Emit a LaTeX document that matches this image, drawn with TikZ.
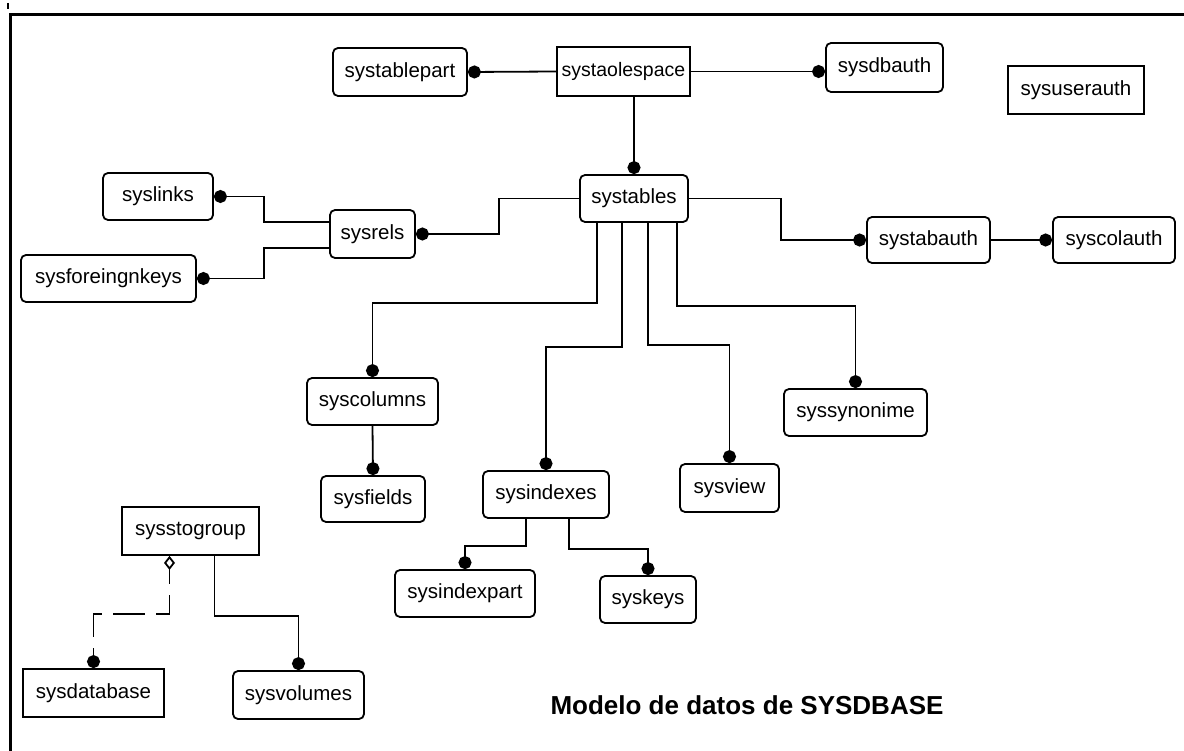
\documentclass[tikz,border=0pt]{standalone}
\usepackage{fontspec}
\setsansfont{Liberation Sans}
\usetikzlibrary{arrows.meta, positioning}

\begin{document}
\begin{tikzpicture}[x=1pt, y=-1pt, line width=1.8pt,
        tbl/.style={draw, rounded corners=5pt, inner sep=0pt,
            font=\sffamily\fontsize{20.5}{24}\selectfont},
        ent/.style={tbl, rounded corners=0pt},
        one/.style={-{Circle[length=13pt]}},
        agg/.style={{Diamond[open, length=14pt, width=11pt]}-{Circle[length=13pt]},
            dash pattern=on 32pt off 11pt, dash phase=16pt},
    ]
        \useasboundingbox (0,0) rectangle (1184,751);
        \draw[line width=3pt] (10,751) -- (10,15) -- (1184,15);
        \draw[line width=2pt] (8,3) -- (8,9);

        \node[tbl, minimum width=134, minimum height=48] (systablepart) at (400,72) {systablepart};
        \node[ent, minimum width=133, minimum height=49, font=\sffamily\fontsize{19.5}{23}\selectfont] (systablespace) at (623.5,71.5) {systaolespace};
        \node[tbl, minimum width=117, minimum height=49] (sysdbauth) at (884.5,67.5) {sysdbauth};
        \node[ent, minimum width=136, minimum height=48] (sysuserauth) at (1076,90) {sysuserauth};
        \node[tbl, minimum width=108, minimum height=47] (systables) at (634,198.5) {systables};
        \node[tbl, minimum width=110, minimum height=47] (syslinks) at (158,196.5) {syslinks};
        \node[tbl, minimum width=175, minimum height=47] (sysforeingnkeys) at (108.5,278.5) {sysforeingnkeys};
        \node[tbl, minimum width=85, minimum height=48] (sysrels) at (372.5,234) {sysrels};
        \node[tbl, minimum width=123, minimum height=46] (systabauth) at (928.5,240) {systabauth};
        \node[tbl, minimum width=122, minimum height=46] (syscolauth) at (1114,240) {syscolauth};
        \node[tbl, minimum width=131, minimum height=47] (syscolumns) at (372.5,401.5) {syscolumns};
        \node[tbl, minimum width=104, minimum height=46] (sysfields) at (373,499) {sysfields};
        \node[tbl, minimum width=126, minimum height=47] (sysindexes) at (546,494.5) {sysindexes};
        \node[tbl, minimum width=99, minimum height=48] (sysview) at (729.5,488) {sysview};
        \node[tbl, minimum width=143, minimum height=47] (syssynonime) at (855.5,412.5) {syssynonime};
        \node[tbl, minimum width=140, minimum height=47] (sysindexpart) at (465,593.5) {sysindexpart};
        \node[tbl, minimum width=96, minimum height=47] (syskeys) at (648,599.5) {syskeys};
        \node[ent, minimum width=137, minimum height=48] (sysstogroup) at (190.5,531) {sysstogroup};
        \node[ent, minimum width=141, minimum height=48] (sysdatabase) at (93.5,693) {sysdatabase};
        \node[tbl, minimum width=131, minimum height=48] (sysvolumes) at (298.5,695) {sysvolumes};
        \node[font=\sffamily\bfseries\fontsize{26}{30}\selectfont] (title) at (747,705) {Modelo de datos de SYSDBASE};

        \draw[one] (systablespace.west) -- (systablepart.east);
        \draw[one] (systablespace.east) -- (systablespace.east -| sysdbauth.west);
        \draw[one] (systablespace.south -| systables.north) -- (systables.north);
        \draw[one] (systables.west) -- ++(-80,0) |- (sysrels.east);
        \draw[one] ([yshift=12]sysrels.west) -- ++(-65,0) |- (syslinks.east);
        \draw[one] ([yshift=-14]sysrels.west) -- ++(-65,0) |- (sysforeingnkeys.east);
        \draw[one] (systables.east) -- ++(92,0) |- (systabauth.west);
        \draw[one] (systabauth.east) -- (syscolauth.west);
        \draw[one] ([xshift=-37]systables.south) -- ++(0,80) -| (syscolumns.north);
        \draw[one] ([xshift=-12]systables.south) -- ++(0,124) -| (sysindexes.north);
        \draw[one] ([xshift=14]systables.south) -- ++(0,122) -| (sysview.north);
        \draw[one] ([xshift=43]systables.south) -- ++(0,83) -| (syssynonime.north);
        \draw[one] (syscolumns.south) -- (sysfields.north);
        \draw[one] ([xshift=-20]sysindexes.south) -- ++(0,27) -| (sysindexpart.north);
        \draw[one] ([xshift=23]sysindexes.south) -- ++(0,30) -| (syskeys.north);
        \draw[agg] ([xshift=-21]sysstogroup.south) -- ++(0,58) -| (sysdatabase.north);
        \draw[one] ([xshift=24]sysstogroup.south) -- ++(0,60) -| (sysvolumes.north);
\end{tikzpicture}
\end{document}
